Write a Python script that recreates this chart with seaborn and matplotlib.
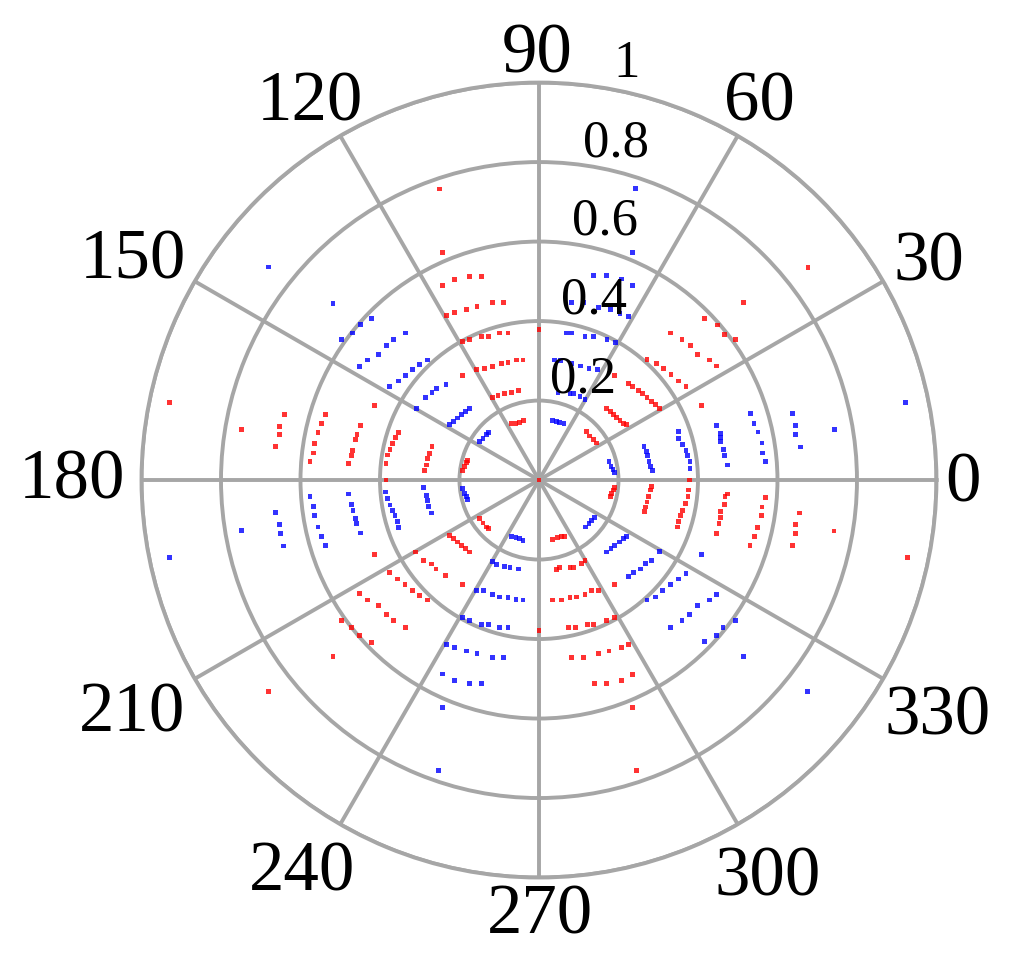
import numpy as np
import pandas as pd
import matplotlib
matplotlib.use("Agg")
import matplotlib.pyplot as plt
from matplotlib.transforms import offset_copy
import seaborn as sns

# spokes and rings
spoke_angles = [0, 30, 60, 90, 120, 150, 180, 210, 240, 270, 300, 330]
ring_values = [0.2, 0.4, 0.6, 0.8, 1.0]
ring_labels = ["0.2", "0.4", "0.6", "0.8", "1"]

# points as (x, y), outer ring = 1
blue_0_30 = [
    (0.176, 0.046), (0.181, 0.035), (0.186, 0.027), (0.190, 0.019),
    (0.264, 0.084), (0.271, 0.072), (0.274, 0.061), (0.277, 0.046), (0.281, 0.035), (0.285, 0.024),
    (0.350, 0.122), (0.350, 0.105), (0.361, 0.089), (0.370, 0.074), (0.374, 0.061), (0.380, 0.046), (0.380, 0.030),
    (0.446, 0.137), (0.456, 0.118), (0.457, 0.108), (0.457, 0.097), (0.465, 0.076), (0.467, 0.061), (0.475, 0.038),
    (0.532, 0.167), (0.541, 0.143), (0.551, 0.121), (0.561, 0.093), (0.562, 0.068), (0.570, 0.046),
    (0.637, 0.167), (0.646, 0.137), (0.646, 0.114), (0.657, 0.083),
    (0.743, 0.128), (0.922, 0.196),
]
blue_60_90 = [
    (0.035, 0.150), (0.044, 0.147), (0.052, 0.145), (0.063, 0.143),
    (0.048, 0.219), (0.078, 0.218), (0.086, 0.218), (0.103, 0.211), (0.116, 0.203),
    (0.040, 0.302), (0.055, 0.300), (0.082, 0.294), (0.105, 0.287), (0.126, 0.280), (0.147, 0.278),
    (0.069, 0.370), (0.082, 0.370), (0.116, 0.361), (0.137, 0.361), (0.171, 0.354), (0.192, 0.346),
    (0.082, 0.446), (0.111, 0.446), (0.149, 0.435), (0.179, 0.429), (0.204, 0.420), (0.225, 0.412),
    (0.137, 0.515), (0.170, 0.515), (0.208, 0.506), (0.235, 0.489),
    (0.235, 0.572), (0.242, 0.734),
]
blue_120_150 = [
    (-0.149, 0.097), (-0.141, 0.105), (-0.133, 0.114), (-0.126, 0.120),
    (-0.225, 0.139), (-0.215, 0.148), (-0.204, 0.156), (-0.194, 0.165), (-0.185, 0.173), (-0.175, 0.181),
    (-0.308, 0.181), (-0.286, 0.207), (-0.269, 0.221), (-0.257, 0.230), (-0.234, 0.241),
    (-0.376, 0.235), (-0.354, 0.249), (-0.335, 0.263), (-0.318, 0.278), (-0.300, 0.291), (-0.281, 0.302),
    (-0.451, 0.285), (-0.432, 0.302), (-0.403, 0.316), (-0.384, 0.339), (-0.365, 0.354), (-0.335, 0.370),
    (-0.497, 0.354), (-0.470, 0.370), (-0.449, 0.392), (-0.421, 0.407),
    (-0.518, 0.445), (-0.681, 0.536),
]
blue_180_210 = [
    (-0.192, -0.021), (-0.188, -0.034), (-0.183, -0.042), (-0.180, -0.048),
    (-0.291, -0.019), (-0.284, -0.038), (-0.280, -0.051), (-0.277, -0.066), (-0.270, -0.083),
    (-0.386, -0.030), (-0.381, -0.046), (-0.375, -0.063), (-0.369, -0.076), (-0.362, -0.089), (-0.356, -0.105), (-0.354, -0.120),
    (-0.480, -0.035), (-0.472, -0.061), (-0.468, -0.076), (-0.461, -0.097), (-0.460, -0.110), (-0.449, -0.133),
    (-0.576, -0.042), (-0.567, -0.066), (-0.565, -0.089), (-0.556, -0.118), (-0.547, -0.142), (-0.538, -0.165),
    (-0.662, -0.082), (-0.653, -0.111), (-0.651, -0.135), (-0.643, -0.166),
    (-0.749, -0.127), (-0.929, -0.195),
]
blue_240_270 = [
    (-0.069, -0.142), (-0.058, -0.145), (-0.048, -0.148), (-0.040, -0.152),
    (-0.116, -0.204), (-0.106, -0.213), (-0.086, -0.218), (-0.073, -0.221), (-0.052, -0.224),
    (-0.158, -0.278), (-0.139, -0.278), (-0.117, -0.287), (-0.099, -0.294), (-0.078, -0.295), (-0.058, -0.300), (-0.040, -0.302),
    (-0.193, -0.346), (-0.175, -0.354), (-0.145, -0.363), (-0.126, -0.363), (-0.099, -0.370), (-0.078, -0.370),
    (-0.232, -0.414), (-0.213, -0.422), (-0.183, -0.430), (-0.156, -0.437), (-0.117, -0.446), (-0.090, -0.446),
    (-0.242, -0.488), (-0.213, -0.505), (-0.175, -0.511), (-0.145, -0.511),
    (-0.242, -0.572), (-0.252, -0.730),
]
blue_300_330 = [
    (0.117, -0.118), (0.126, -0.110), (0.133, -0.101), (0.139, -0.095),
    (0.170, -0.181), (0.181, -0.173), (0.191, -0.165), (0.202, -0.156), (0.213, -0.148), (0.221, -0.142),
    (0.225, -0.243), (0.238, -0.232), (0.255, -0.224), (0.268, -0.209), (0.284, -0.203), (0.303, -0.179),
    (0.272, -0.302), (0.293, -0.294), (0.311, -0.278), (0.331, -0.263), (0.350, -0.249), (0.370, -0.235),
    (0.331, -0.370), (0.360, -0.354), (0.379, -0.339), (0.398, -0.316), (0.428, -0.302), (0.446, -0.287),
    (0.417, -0.407), (0.446, -0.392), (0.463, -0.370), (0.494, -0.354),
    (0.408, -0.187), (0.514, -0.443), (0.675, -0.533),
]

red_axes = [(0.0, 0.0), (0.379, 0.0), (0.0, 0.378), (-0.385, 0.0), (0.0, -0.378)]
red_30_60 = [
    (0.120, 0.122), (0.128, 0.111), (0.137, 0.101), (0.145, 0.093),
    (0.170, 0.181), (0.179, 0.173), (0.187, 0.165), (0.196, 0.158), (0.204, 0.150), (0.213, 0.143), (0.221, 0.139),
    (0.225, 0.243), (0.235, 0.235), (0.251, 0.226), (0.261, 0.218), (0.272, 0.207), (0.284, 0.198), (0.293, 0.190), (0.303, 0.180),
    (0.272, 0.304), (0.295, 0.294), (0.314, 0.280), (0.332, 0.266), (0.350, 0.249), (0.370, 0.235),
    (0.331, 0.370), (0.360, 0.354), (0.381, 0.339), (0.398, 0.316), (0.428, 0.302), (0.446, 0.287),
    (0.417, 0.407), (0.449, 0.390), (0.466, 0.367), (0.494, 0.354),
    (0.190, 0.264), (0.408, 0.188), (0.514, 0.446), (0.677, 0.534),
]
red_90_120 = [
    (-0.069, 0.142), (-0.058, 0.142), (-0.048, 0.145), (-0.039, 0.150),
    (-0.116, 0.207), (-0.103, 0.213), (-0.086, 0.218), (-0.069, 0.220), (-0.052, 0.226),
    (-0.158, 0.278), (-0.137, 0.280), (-0.116, 0.285), (-0.095, 0.294), (-0.078, 0.296), (-0.057, 0.302), (-0.040, 0.302),
    (-0.192, 0.348), (-0.175, 0.354), (-0.145, 0.361), (-0.126, 0.361), (-0.099, 0.370), (-0.078, 0.370),
    (-0.232, 0.415), (-0.213, 0.422), (-0.183, 0.429), (-0.156, 0.437), (-0.117, 0.446), (-0.090, 0.446),
    (-0.242, 0.489), (-0.212, 0.505), (-0.175, 0.513), (-0.145, 0.513),
    (-0.193, 0.263), (-0.242, 0.572), (-0.251, 0.732),
]
red_150_180 = [
    (-0.193, 0.024), (-0.187, 0.034), (-0.183, 0.044), (-0.180, 0.050),
    (-0.289, 0.025), (-0.284, 0.038), (-0.280, 0.055), (-0.276, 0.066), (-0.269, 0.084),
    (-0.385, 0.042), (-0.381, 0.063), (-0.375, 0.076), (-0.368, 0.091), (-0.360, 0.108), (-0.354, 0.120),
    (-0.480, 0.041), (-0.472, 0.061), (-0.470, 0.074), (-0.462, 0.101), (-0.458, 0.114), (-0.449, 0.137),
    (-0.576, 0.046), (-0.567, 0.068), (-0.565, 0.091), (-0.556, 0.120), (-0.547, 0.142), (-0.538, 0.165),
    (-0.662, 0.084), (-0.652, 0.114), (-0.652, 0.135), (-0.641, 0.165),
    (-0.413, 0.187), (-0.749, 0.128), (-0.929, 0.195),
]
red_210_240 = [
    (-0.149, -0.097), (-0.141, -0.108), (-0.133, -0.118), (-0.126, -0.122),
    (-0.225, -0.139), (-0.215, -0.148), (-0.204, -0.156), (-0.194, -0.165), (-0.185, -0.173), (-0.175, -0.181),
    (-0.310, -0.181), (-0.291, -0.203), (-0.270, -0.211), (-0.259, -0.224), (-0.236, -0.241),
    (-0.376, -0.232), (-0.356, -0.249), (-0.337, -0.263), (-0.318, -0.278), (-0.300, -0.291), (-0.280, -0.302),
    (-0.451, -0.285), (-0.432, -0.302), (-0.403, -0.316), (-0.384, -0.339), (-0.365, -0.354), (-0.335, -0.370),
    (-0.497, -0.353), (-0.472, -0.370), (-0.452, -0.392), (-0.421, -0.409),
    (-0.193, -0.263), (-0.413, -0.187), (-0.518, -0.443), (-0.681, -0.533),
]
red_270_300 = [
    (0.035, -0.150), (0.046, -0.145), (0.057, -0.143), (0.065, -0.142),
    (0.044, -0.226), (0.052, -0.221), (0.078, -0.219), (0.086, -0.219), (0.106, -0.209), (0.116, -0.203),
    (0.035, -0.302), (0.057, -0.302), (0.078, -0.295), (0.095, -0.294), (0.116, -0.287), (0.133, -0.278), (0.149, -0.278),
    (0.074, -0.370), (0.092, -0.370), (0.122, -0.363), (0.137, -0.363), (0.170, -0.354), (0.190, -0.346),
    (0.082, -0.446), (0.111, -0.446), (0.149, -0.437), (0.176, -0.430), (0.207, -0.422), (0.225, -0.414),
    (0.139, -0.511), (0.170, -0.511), (0.207, -0.505), (0.235, -0.489),
    (0.190, -0.263), (0.235, -0.572), (0.245, -0.730),
]
red_330_360 = [
    (0.179, -0.042), (0.183, -0.034), (0.187, -0.025), (0.190, -0.019),
    (0.266, -0.080), (0.269, -0.068), (0.272, -0.055), (0.276, -0.041), (0.280, -0.025), (0.283, -0.017),
    (0.348, -0.118), (0.350, -0.105), (0.356, -0.089), (0.362, -0.076), (0.369, -0.059), (0.375, -0.041), (0.377, -0.025),
    (0.446, -0.135), (0.453, -0.110), (0.457, -0.095), (0.457, -0.080), (0.466, -0.061), (0.468, -0.041), (0.474, -0.035),
    (0.531, -0.165), (0.542, -0.143), (0.550, -0.120), (0.559, -0.089), (0.561, -0.068), (0.570, -0.044),
    (0.637, -0.165), (0.646, -0.135), (0.646, -0.111), (0.656, -0.083),
    (0.742, -0.128), (0.927, -0.195),
]

blue_pts = blue_0_30 + blue_60_90 + blue_120_150 + blue_180_210 + blue_240_270 + blue_300_330
red_pts = red_axes + red_30_60 + red_90_120 + red_150_180 + red_210_240 + red_270_300 + red_330_360


def polar_frame(pts, colour):
    xy = np.array(pts, dtype=float)
    return pd.DataFrame({
        "theta": np.arctan2(xy[:, 1], xy[:, 0]) % (2 * np.pi),
        "r": np.hypot(xy[:, 0], xy[:, 1]),
        "colour": colour,
    })


df = pd.concat([polar_frame(blue_pts, "blue"), polar_frame(red_pts, "red")], ignore_index=True)

sns.set_style("white")
plt.rcParams["font.family"] = ["Liberation Serif", "DejaVu Serif"]

grid_col = "#a6a6a6"

fig = plt.figure(figsize=(10.18, 9.6), dpi=100)
ax = fig.add_axes([0.139, 0.0859, 0.7809, 0.8281], projection="polar")

sns.scatterplot(data=df, x="theta", y="r", hue="colour",
                palette={"blue": "#0000ff", "red": "#ff0000"},
                marker="s", s=12, linewidth=0, alpha=0.8,
                legend=False, ax=ax, zorder=3)

ax.set_ylim(0, 1)
ax.set_yticks(ring_values)
ax.set_yticklabels([])
ax.set_xticks(np.deg2rad(spoke_angles))
ax.set_xticklabels([])
ax.set_xlabel("")
ax.set_ylabel("")
ax.tick_params(length=0)
ax.grid(True, color=grid_col, linewidth=2.8, linestyle="-")
ax.spines["polar"].set_color(grid_col)
ax.spines["polar"].set_linewidth(2.8)

# spoke labels (MATLAB polar style)
label_ang = [0.4, 29.9, 60.2, 90.2, 120.8, 150.9, 179.3, 209.2, 238.5, 270.1, 300.3, 330.0]
label_r = [1.068, 1.132, 1.114, 1.086, 1.124, 1.170, 1.175, 1.172, 1.139, 1.079, 1.138, 1.158]
spoke_tf = offset_copy(ax.transData, fig=fig, x=0, y=-7, units="dots")
for a, lr, name in zip(label_ang, label_r, spoke_angles):
    ax.text(np.deg2rad(a), lr, str(name), ha="center", va="center", color="black",
            fontsize=51, transform=spoke_tf, clip_on=False)

# ring labels along the 82 degree line
ring_tf = offset_copy(ax.transData, fig=fig, x=32.5, y=22, units="dots")
for rv, lab in zip(ring_values, ring_labels):
    ax.text(np.deg2rad(82), rv, lab, ha="center", va="center", color="black",
            fontsize=38, transform=ring_tf, clip_on=False, zorder=5)

fig.savefig("out.png", dpi=100)
